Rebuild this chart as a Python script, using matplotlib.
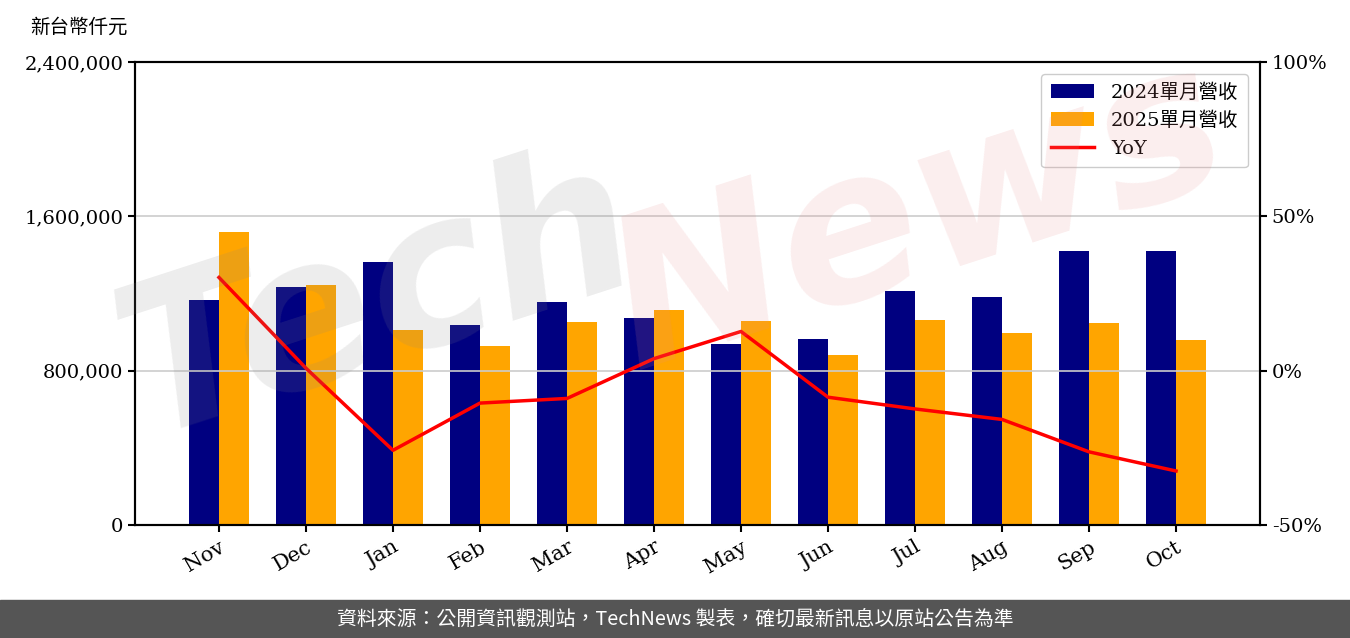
import numpy as np
import matplotlib
matplotlib.use("Agg")
import matplotlib.pyplot as plt
from matplotlib.patches import Rectangle

plt.rcParams['font.family'] = ['DejaVu Serif', 'Noto Sans CJK TC']

# monthly revenue, thousand NTD
months = ['Nov', 'Dec', 'Jan', 'Feb', 'Mar', 'Apr', 'May', 'Jun', 'Jul', 'Aug', 'Sep', 'Oct']
rev_2024 = [1166000, 1233600, 1363000, 1036600, 1155800, 1072900,
            938100, 964000, 1212800, 1181700, 1420100, 1420100]
rev_2025 = [1518600, 1244000, 1010700, 927800, 1052200, 1114300,
            1057300, 881100, 1062500, 995100, 1047000, 958900]
yoy = [30.2, 0.8, -25.8, -10.5, -9.0, 3.9, 12.7, -8.6, -12.4, -15.8, -26.3, -32.5]

fig = plt.figure(figsize=(13.5, 6.38), dpi=100)
ax = fig.add_axes([135/1350, 1 - 525/638, 1125/1350, 463/638])
ax2 = ax.twinx()

x = np.arange(len(months))
w = 0.35
ax.bar(x - w/2, rev_2024, w, color='#000080', label='2024單月營收', zorder=2)
ax.bar(x + w/2, rev_2025, w, color='#FFA500', label='2025單月營收', zorder=2)
ln, = ax2.plot(x, yoy, color='red', lw=2.5, label='YoY', zorder=3)

ax.set_ylim(0, 2400000)
ax.set_yticks([0, 800000, 1600000, 2400000])
ax.set_yticklabels(['0', '800,000', '1,600,000', '2,400,000'])
ax.set_xlim(-0.965, 11.965)
ax.set_xticks(x)
ax.set_xticklabels(months, rotation=30, ha='right', rotation_mode='anchor')
ax2.set_ylim(-50, 100)
ax2.set_yticks([-50, 0, 50, 100])
ax2.set_yticklabels(['-50%', '0%', '50%', '100%'])
ax2.grid(axis='y', color='#cccccc', lw=1.2, zorder=0)
ax.set_axisbelow(True)

for a in (ax, ax2):
    a.tick_params(labelsize=14, width=1.5, length=5)
    for s in a.spines.values():
        s.set_linewidth(1.5)
ax.tick_params(axis='x', labelsize=15, pad=4)

h1, l1 = ax.get_legend_handles_labels()
leg = ax2.legend(h1 + [ln], l1 + ['YoY'], loc='upper right', fontsize=14,
                 handlelength=2.2, handletextpad=0.9, labelspacing=0.5,
                 borderpad=0.5, borderaxespad=0.6, framealpha=1)
leg.set_zorder(5)

fig.text(30/1350, 1 - 27/638, '新台幣仟元', fontsize=14, va='center', ha='left')

# watermark
fig.text(0.28, 0.53, 'Tech', fontsize=150, color='#888888', alpha=0.15, rotation=18,
         ha='center', va='center', family='DejaVu Sans', fontweight='bold', style='italic', zorder=10)
fig.text(0.68, 0.66, 'News', fontsize=150, color='#e88a8a', alpha=0.15, rotation=18,
         ha='center', va='center', family='DejaVu Sans', fontweight='bold', style='italic', zorder=10)

# source banner
fig.patches.append(Rectangle((0, 0), 1, 38/638, transform=fig.transFigure,
                             color='#555555', zorder=0))
fig.text(0.5, 19/638, '資料來源：公開資訊觀測站，TechNews 製表，確切最新訊息以原站公告為準',
         color='white', fontsize=14.3, ha='center', va='center', family=['Noto Sans CJK TC'])

fig.savefig('out.png', dpi=100)
